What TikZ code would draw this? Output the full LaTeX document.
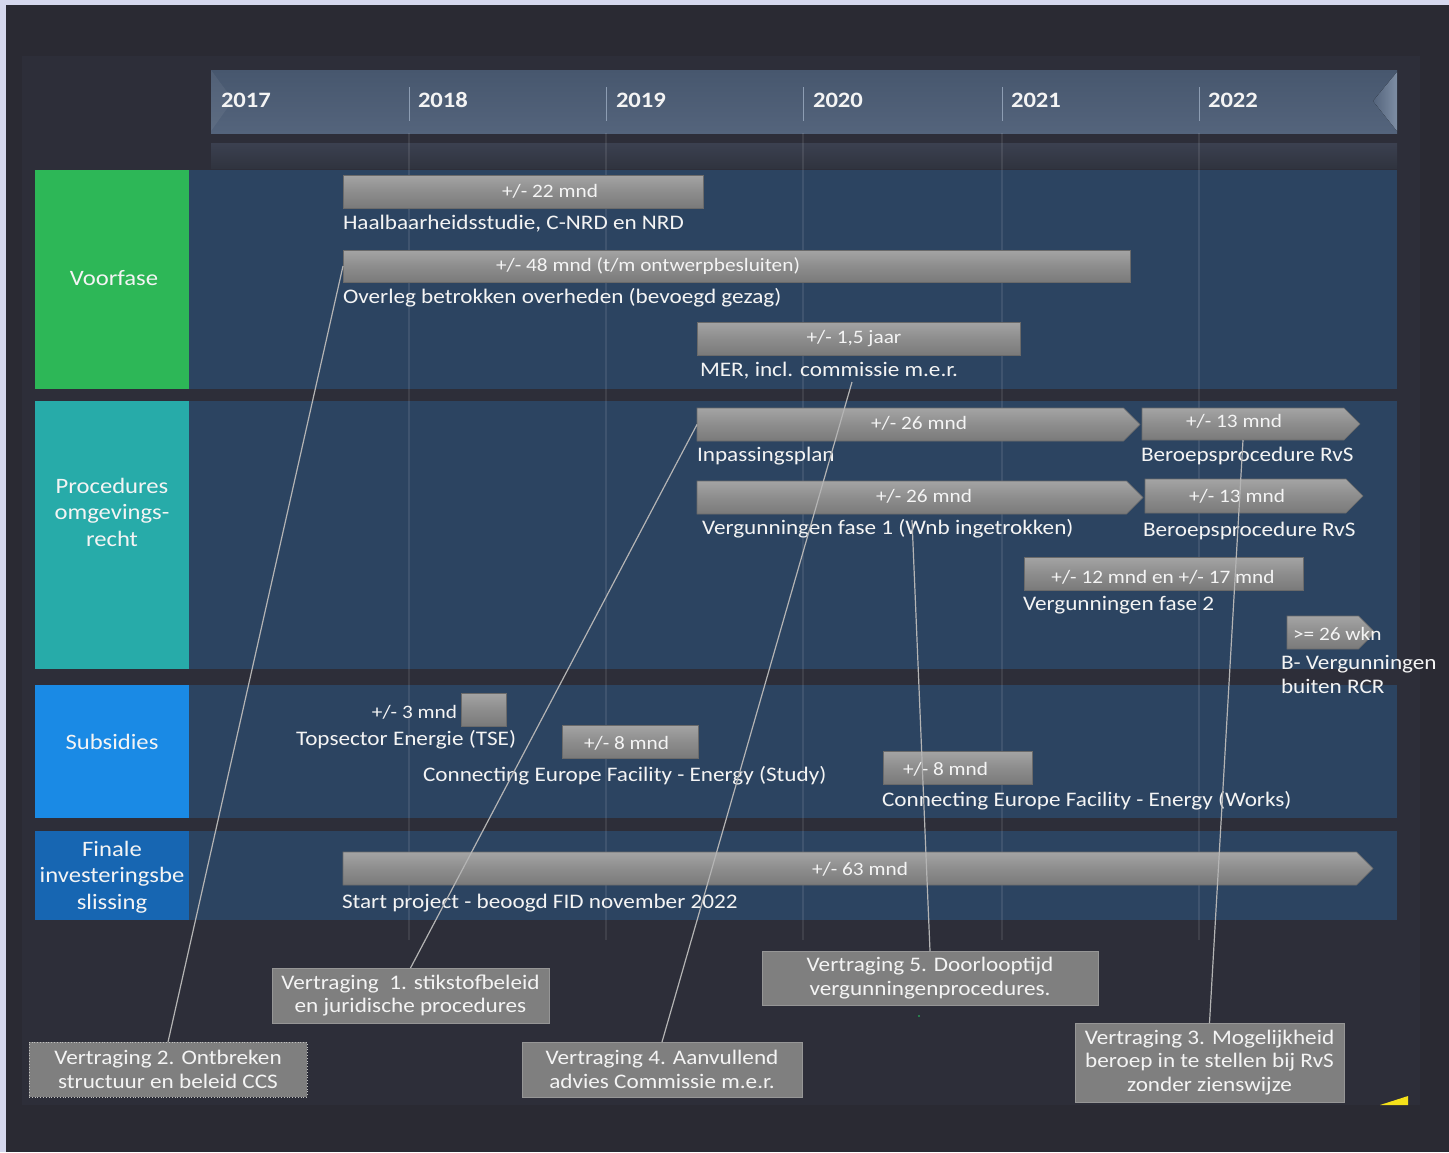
\documentclass[tikz,border=0pt]{standalone}
\usepackage{fontspec}
\setmainfont{Carlito}[FakeStretch=1.12]
\usetikzlibrary{shapes.symbols}
\definecolor{outer}{HTML}{D5D8EE}
\definecolor{bgdark}{HTML}{2A2A33}
\definecolor{panel}{HTML}{2D2E39}
\definecolor{rowbg}{HTML}{2C4461}
\definecolor{cgreen}{HTML}{2DB757}
\definecolor{cteal}{HTML}{27ABA9}
\definecolor{cblue}{HTML}{1A8AE5}
\definecolor{cdblue}{HTML}{1766B2}
\definecolor{hdrtop}{HTML}{47576E}
\definecolor{hdrbot}{HTML}{54647C}
\definecolor{hdrlight}{HTML}{7E8EA4}
\definecolor{bandtop}{HTML}{3B4050}
\definecolor{bandbot}{HTML}{30343F}
\definecolor{bartop}{HTML}{A4A4A4}
\definecolor{barmid}{HTML}{8D8D8D}
\definecolor{barbot}{HTML}{7A7A7A}
\definecolor{barline}{HTML}{6A6A6A}
\definecolor{delayfill}{HTML}{7F7F7F}
\definecolor{delayline}{HTML}{969696}
\definecolor{linec}{HTML}{B4B4B4}
\definecolor{txt}{HTML}{F4F4F4}
\definecolor{yearline}{HTML}{8D9DB3}
\definecolor{cyellow}{HTML}{F5E11A}
\definecolor{dotgreen}{HTML}{2A9A55}
\begin{document}
\begin{tikzpicture}[x=1pt,y=-1pt,
  every node/.style={inner sep=0pt, outer sep=0pt, text=txt},
  bar/.style={rectangle, anchor=north west, top color=bartop, bottom color=barbot, middle color=barmid, draw=barline, line width=0.6pt},
  sbar/.style={bar, signal, signal to=east, signal pointer angle=90},
  bartext/.style={font=\fontsize{19}{22}\selectfont},
  lab/.style={anchor=mid west, font=\fontsize{20.7}{24}\selectfont},
  yeartext/.style={anchor=mid west, font=\fontsize{22}{26}\selectfont\bfseries},
  group/.style={rectangle, anchor=north west, minimum width=154pt},
  grouptext/.style={align=center, font=\fontsize{22}{26.5}\selectfont},
  delay/.style={rectangle, fill=delayfill, draw=delayline, line width=0.8pt, align=center, font=\fontsize{20.7}{23.5}\selectfont},
  conn/.style={draw=linec, line width=1.2pt},
  yline/.style={draw=white, opacity=0.09, line width=1.2pt}
]
\useasboundingbox (0,0) rectangle (1449,1152);
% backgrounds
\fill[outer] (0,0) rectangle (1449,1152);
\fill[bgdark] (6,5) rectangle (1449,1152);
\fill[panel] (22,56) rectangle (1420,1105);
% header
\fill[top color=hdrtop, bottom color=hdrbot] (211,70) rectangle (1397,133);
\fill[left color=hdrbot, right color=hdrlight] (1373,101) -- (1397,72) -- (1397,131) -- cycle;
\fill[white, opacity=0.06] (211,70) -- (233,100) -- (211,131) -- cycle;
\fill[top color=bandtop, bottom color=bandbot] (211,143) rectangle (1397,168);
\foreach \x in {409,606,803,1002,1199} {
  \draw[yearline, line width=1pt] (\x,87) -- (\x,121);
}
\node[yeartext] (y2017) at (221,105) {2017};
\node[yeartext] (y2018) at (418,105) {2018};
\node[yeartext] (y2019) at (616,105) {2019};
\node[yeartext] (y2020) at (813,105) {2020};
\node[yeartext] (y2021) at (1011,105) {2021};
\node[yeartext] (y2022) at (1208,105) {2022};
% rows
\fill[rowbg] (35,170) rectangle (1397,389);
\fill[rowbg] (35,401) rectangle (1397,669);
\fill[rowbg] (35,685) rectangle (1397,818);
\fill[rowbg] (35,831) rectangle (1397,920);
\foreach \x in {409,606,803,1002,1199} {
  \draw[yline] (\x,133) -- (\x,940);
}
\node[group, fill=cgreen, minimum height=219pt] (gvoor) at (35,170) {};
\node[group, fill=cteal, minimum height=268pt] (gproc) at (35,401) {};
\node[group, fill=cblue, minimum height=133pt] (gsub) at (35,685) {};
\node[group, fill=cdblue, minimum height=89pt] (gfid) at (35,831) {};
\node[grouptext] (tvoor) at (114,278.5) {Voorfase};
\node[grouptext] (tproc) at (112,512) {Procedures\\omgevings-\\recht};
\node[grouptext] (tsub) at (112,741.5) {Subsidies};
\node[grouptext] (tfid) at (112,877) {Finale\\investeringsbe\\slissing};
% bars
\node[bar, minimum width=360pt, minimum height=33pt] (b1) at (343,175) {};
\node[bar, minimum width=787pt, minimum height=32pt] (b2) at (343,250) {};
\node[bar, minimum width=323pt, minimum height=33pt] (b3) at (697,322) {};
\node[sbar, minimum width=443pt, minimum height=33pt] (inp) at (697,408) {};
\node[sbar, minimum width=218pt, minimum height=32pt] (be1) at (1142,408) {};
\node[sbar, minimum width=446pt, minimum height=33pt] (vf1) at (697,481) {};
\node[sbar, minimum width=218pt, minimum height=34pt] (be2) at (1145,479) {};
\node[bar, minimum width=279pt, minimum height=33pt] (vf2) at (1024,557) {};
\node[sbar, minimum width=88pt, minimum height=33pt] (bv) at (1287,616) {};
\node[bar, minimum width=45pt, minimum height=33pt] (tse) at (461,693) {};
\node[bar, minimum width=136pt, minimum height=33pt] (cefs) at (562,725) {};
\node[bar, minimum width=149pt, minimum height=33pt] (cefw) at (883,751) {};
\node[sbar, minimum width=1030pt, minimum height=33pt] (fid) at (343,852) {};
% bar texts
\node[bartext] (t1) at (550,191.5) {+/- 22 mnd};
\node[bartext] (t2) at (648,266.5) {+/- 48 mnd (t/m ontwerpbesluiten)};
\node[bartext] (t3) at (854,338.5) {+/- 1,5 jaar};
\node[bartext] (t4) at (919,423.5) {+/- 26 mnd};
\node[bartext] (t5) at (1234,421.5) {+/- 13 mnd};
\node[bartext] (t6) at (924,496.5) {+/- 26 mnd};
\node[bartext] (t7) at (1237,496.5) {+/- 13 mnd};
\node[bartext] (t8) at (1163,577.5) {+/- 12 mnd en +/- 17 mnd};
\node[bartext, anchor=mid west] (t9) at (1293,638) {>= 26 wkn};
\node[bartext, anchor=mid east] (t10) at (457,716) {+/- 3 mnd};
\node[bartext, anchor=mid west] (t11) at (584,747) {+/- 8 mnd};
\node[bartext, anchor=mid west] (t12) at (903,773) {+/- 8 mnd};
\node[bartext] (t13) at (860,869.5) {+/- 63 mnd};
% labels
\node[lab] (l1) at (343,227) {Haalbaarheidsstudie, C-NRD en NRD};
\node[lab] (l2) at (343,301) {Overleg betrokken overheden (bevoegd gezag)};
\node[lab] (l3) at (700,374) {MER, incl. commissie m.e.r.};
\node[lab] (l4) at (697,459) {Inpassingsplan};
\node[lab] (l5) at (1141,459) {Beroepsprocedure RvS};
\node[lab] (l6) at (702,532) {Vergunningen fase 1 (Wnb ingetrokken)};
\node[lab] (l7) at (1143,534) {Beroepsprocedure RvS};
\node[lab] (l8) at (1023,608) {Vergunningen fase 2};
\node[lab] (l9a) at (1281,667) {B- Vergunningen};
\node[lab] (l9b) at (1281,691) {buiten RCR};
\node[lab] (l10) at (296,743) {Topsector Energie (TSE)};
\node[lab] (l11) at (423,779) {Connecting Europe Facility - Energy (Study)};
\node[lab] (l12) at (882,804) {Connecting Europe Facility - Energy (Works)};
\node[lab] (l13) at (342,906) {Start project - beoogd FID november 2022};
% connector end points
\coordinate (e4) at (852,382);
\coordinate (e5) at (912,520);
% delay boxes
\node[delay, minimum width=277pt, minimum height=55pt] (v1) at (410.5,995.5) {Vertraging\ \ 1. stikstofbeleid\\en juridische procedures};
\node[delay, draw=delayline!60!white, dotted, minimum width=278pt, minimum height=55pt] (v2) at (168,1069.5) {Vertraging 2. Ontbreken\\structuur en beleid CCS};
\node[delay, minimum width=280pt, minimum height=55pt] (v4) at (662,1069.5) {Vertraging 4. Aanvullend\\advies Commissie m.e.r.};
\node[delay, minimum width=336pt, minimum height=54pt] (v5) at (930,978) {Vertraging 5. Doorlooptijd\\vergunningenprocedures.};
\node[delay, minimum width=269pt, minimum height=79pt] (v3) at (1209.5,1062.5) {Vertraging 3. Mogelijkheid\\beroep in te stellen bij RvS\\zonder zienswijze};
% connectors
\draw[conn] (v1.north) -- (inp.west);
\draw[conn] (v2.north) -- (b2.west);
\draw[conn] (v4.north) -- (e4);
\draw[conn] (v5.north) -- (e5);
\draw[conn] (v3.north) -- (be1.south);
% small marks
\fill[dotgreen] (919,1016) circle (1.2);
\fill[cyellow] (1380,1105) -- (1408,1096) -- (1408,1105) -- cycle;
\end{tikzpicture}
\end{document}
